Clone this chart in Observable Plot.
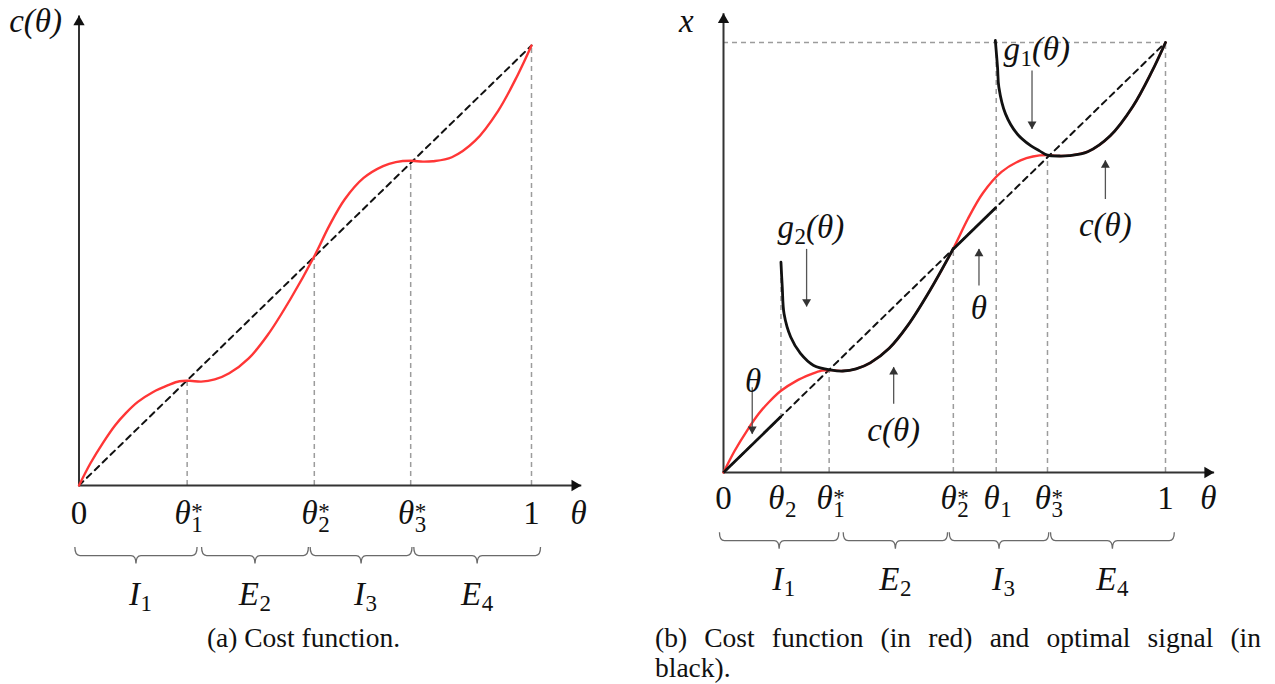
<!DOCTYPE html>
<html><head><meta charset="utf-8">
<script src="https://cdn.jsdelivr.net/npm/d3@7"></script>
<script src="https://cdn.jsdelivr.net/npm/@observablehq/plot@0.6"></script>
<style>
body{margin:0;background:#fff;width:1275px;height:684px;overflow:hidden;position:relative}
#a{position:absolute;left:0;top:0}
#b{position:absolute;left:640px;top:0}
.cap{position:absolute;font-family:"Liberation Serif","Times New Roman",serif;font-size:27.5px;line-height:30px;color:#111;white-space:nowrap}
</style></head><body>
<div id="a"></div><div id="b"></div>
<div class="cap" style="left:0;top:623px;width:607px;text-align:center">(a) Cost function.</div>
<div class="cap" style="left:655px;top:623px;width:606px;text-align:justify;text-align-last:justify;white-space:normal">(b) Cost function (in red) and optimal signal (in</div>
<div class="cap" style="left:655px;top:653px">black).</div>
<script>
// ---- data (θ on x, value on y, both in [0,1]) ----
const cTheta = [0, 0.025, 0.053, 0.080, 0.103, 0.130, 0.163, 0.197, 0.222, 0.245, 0.270, 0.300, 0.332, 0.375, 0.417, 0.468, 0.520, 0.553, 0.587, 0.629, 0.672, 0.700, 0.733, 0.760, 0.782, 0.824, 0.875, 0.926, 0.969, 1];
const cValue = [0, 0.050, 0.097, 0.137, 0.164, 0.190, 0.212, 0.228, 0.237, 0.238, 0.236, 0.241, 0.255, 0.289, 0.342, 0.425, 0.521, 0.590, 0.650, 0.699, 0.726, 0.735, 0.738, 0.736, 0.737, 0.746, 0.783, 0.851, 0.932, 1];
const thetaStar = [0.239, 0.520, 0.733];
const theta2 = 0.130;
const theta1 = 0.617;
const g2Theta = [0.130, 0.133, 0.137, 0.152, 0.174, 0.204];
const g2Value = [0.489, 0.430, 0.369, 0.315, 0.277, 0.249];
const g1Theta = [0.615, 0.620, 0.623, 0.638, 0.664, 0.695, 0.715];
const g1Value = [1.005, 0.942, 0.896, 0.834, 0.788, 0.760, 0.748];

const ticksA = [0, thetaStar[0], thetaStar[1], thetaStar[2], 1];
const tickLabelsA = ["0", "θ_1^*", "θ_2^*", "θ_3^*", "1"];
const ticksB = [0, theta2, thetaStar[0], thetaStar[1], theta1, thetaStar[2], 1];
const tickLabelsB = ["0", "θ_2", "θ_1^*", "θ_2^*", "θ_1", "θ_3^*", "1"];

const regionLabels = ["I_1", "E_2", "I_3", "E_4"];
const regionStart = [-0.008, 0.272, 0.512, 0.741];
const regionEnd = [0.262, 0.508, 0.737, 1.021];

const dropThetaA = [thetaStar[0], thetaStar[1], thetaStar[2], 1];
const dropTopA = [0.239, 0.521, 0.738, 1];
const dropThetaB = [theta2, thetaStar[0], thetaStar[1], theta1, thetaStar[2], 1];
const dropTopB = [0.489, 0.239, 0.521, 1.0, 0.738, 1];

const annLabels = ["θ", "g_2(θ)", "c(θ)", "θ", "g_1(θ)", "c(θ)"];
const annLabelX = [0.067, 0.198, 0.385, 0.578, 0.709, 0.864];
const annLabelY = [0.212, 0.571, 0.098, 0.381, 0.985, 0.574];
const annArrowX = [0.065, 0.188, 0.385, 0.578, 0.698, 0.864];
const annArrowFrom = [0.198, 0.520, 0.160, 0.435, 0.935, 0.636];
const annArrowTo = [0.090, 0.386, 0.245, 0.520, 0.799, 0.726];

// ---- helpers ----
const serif = "'Liberation Serif','Times New Roman',serif";
const cData = cTheta.map((t, i) => ({t, v: cValue[i]}));
const diag = [0, 1];

function parse(label) {
  const m = label.match(/^([^_^]+)(?:_([^_^(]))?(?:\^([^_^(]))?(.*)$/);
  return {base: m[1], sub: m[2] || "", sup: m[3] || "", rest: m[4] || ""};
}
function mathText(items, {size = 33, subSize = 23, subDy = 11, supDy = -1.5} = {}) {
  const P = items.map(d => ({...d, ...parse(d.label)}));
  const isNum = d => /^[0-9]+$/.test(d.base);
  const plain = P.filter(d => !d.sub && !d.sup && !d.rest);
  const scripted = P.filter(d => (d.sub || d.sup) && !d.rest);
  const comp = P.filter(d => d.rest);
  const c = {x: "x", y: "y", fontFamily: serif, fill: "#111", lineAnchor: "middle"};
  return [
    Plot.text(plain.filter(d => !isNum(d)), {...c, text: "base", fontSize: size, fontStyle: "italic"}),
    Plot.text(plain.filter(isNum), {...c, text: "base", fontSize: size}),
    Plot.text(scripted, {...c, text: "base", fontSize: size, fontStyle: "italic", textAnchor: "end", dx: 3.5}),
    Plot.text(scripted.filter(d => d.sub), {...c, text: "sub", fontSize: subSize, textAnchor: "start", dx: 4, dy: subDy}),
    Plot.text(scripted.filter(d => d.sup), {...c, text: "sup", fontSize: subSize, textAnchor: "start", dx: 4, dy: supDy}),
    Plot.text(comp, {...c, text: "base", fontSize: size, fontStyle: "italic", textAnchor: "end", dx: -17}),
    Plot.text(comp, {...c, text: "sub", fontSize: subSize, textAnchor: "start", dx: -16.5, dy: subDy}),
    Plot.text(comp, {...c, text: "rest", fontSize: size, fontStyle: "italic", textAnchor: "start", dx: -5})
  ];
}
function braces(starts, ends, yTop) {
  return (index, scales) => {
    const g = d3.create("svg:g").attr("fill", "none").attr("stroke", "#6a6a6a").attr("stroke-width", 1.3);
    starts.forEach((s, i) => {
      const x0 = scales.x(s), x1 = scales.x(ends[i]), xm = (x0 + x1) / 2, y0 = scales.y(yTop);
      const h = 8.5, t = 8, r = 5, yh = y0 + h;
      g.append("path").attr("d",
        `M${x0},${y0}Q${x0},${yh} ${x0 + r},${yh}L${xm - r},${yh}Q${xm},${yh} ${xm},${yh + t}Q${xm},${yh} ${xm + r},${yh}L${x1 - r},${yh}Q${x1},${yh} ${x1},${y0}`);
    });
    return g.node();
  };
}
function axes(xTip, yTip) {
  return [
    Plot.link([0], {x1: 0, y1: 0, x2: 0, y2: yTip, stroke: "#333", strokeWidth: 2}),
    Plot.link([0], {x1: 0, y1: 0, x2: xTip, y2: 0, stroke: "#333", strokeWidth: 2}),
    Plot.dot([0], {x: 0, y: yTip, symbol: "triangle", r: 4.2, fill: "#111", stroke: null, dy: 6.5}),
    Plot.dot([0], {x: xTip, y: 0, symbol: "triangle", r: 4.2, fill: "#111", stroke: null, rotate: 90, dx: -6.5})
  ];
}
const dashGrey = {stroke: "#9c9c9c", strokeDasharray: "5,4", strokeWidth: 1.5};
const dashDiag = {stroke: "#111", strokeWidth: 2, strokeDasharray: "6,5"};
const regionItems = regionLabels.map((label, i) => ({label, x: (regionStart[i] + regionEnd[i]) / 2, y: -0.248}));

// ---- panel (a) ----
const plotA = Plot.plot({
  width: 640, height: 615,
  marginLeft: 78.5, marginRight: 109, marginTop: 45, marginBottom: 130,
  x: {domain: [0, 1], axis: null}, y: {domain: [0, 1], axis: null},
  marks: [
    Plot.ruleX(dropThetaA.map((t, i) => ({t, top: dropTopA[i]})), {x: "t", y1: 0, y2: "top", ...dashGrey}),
    Plot.line(diag, {x: d => d, y: d => d, ...dashDiag}),
    ...axes(1.11, 1.068),
    Plot.line(cData, {x: "t", y: "v", stroke: "#ff3636", strokeWidth: 2.4, curve: "catmull-rom"}),
    ...mathText([{label: "c(θ)", x: -0.096, y: 1.055}, {label: "θ", x: 1.104, y: -0.063}]),
    ...mathText(ticksA.map((x, i) => ({x, y: -0.063, label: tickLabelsA[i]}))),
    braces(regionStart, regionEnd, -0.141),
    ...mathText(regionItems, {subDy: 9})
  ]
});
document.getElementById("a").append(plotA);

// ---- panel (b) ----
const signalLow = g2Theta.map((t, i) => ({t, v: g2Value[i]})).concat(cData.filter(d => d.t >= thetaStar[0] && d.t <= thetaStar[1]));
const signalHigh = g1Theta.map((t, i) => ({t, v: g1Value[i]})).concat(cData.filter(d => d.t >= thetaStar[2]));
const signalLinear = [[0, theta2], [thetaStar[1], theta1]];
const arrows = annArrowX.map((x, i) => ({x, from: annArrowFrom[i], to: annArrowTo[i]}));
const arrowHead = {x: "x", y: "to", symbol: "triangle", r: 3.3, fill: "#333", stroke: null};

const plotB = Plot.plot({
  width: 635, height: 615,
  marginLeft: 83, marginRight: 110, marginTop: 42, marginBottom: 143,
  x: {domain: [0, 1], axis: null}, y: {domain: [0, 1], axis: null},
  marks: [
    Plot.ruleX(dropThetaB.map((t, i) => ({t, top: dropTopB[i]})), {x: "t", y1: 0, y2: "top", ...dashGrey}),
    Plot.ruleY([1], {x1: 0, x2: 1, ...dashGrey}),
    Plot.line(diag, {x: d => d, y: d => d, ...dashDiag}),
    ...axes(1.11, 1.068),
    Plot.line(cData, {x: "t", y: "v", stroke: "#ff3636", strokeWidth: 2.4, curve: "catmull-rom"}),
    Plot.link(signalLinear, {x1: d => d[0], y1: d => d[0], x2: d => d[1], y2: d => d[1], stroke: "#111", strokeWidth: 2.8}),
    Plot.line(signalLow, {x: "t", y: "v", stroke: "#111", strokeWidth: 2.8, curve: "catmull-rom"}),
    Plot.line(signalHigh, {x: "t", y: "v", stroke: "#111", strokeWidth: 2.8, curve: "catmull-rom"}),
    Plot.link(arrows, {x1: "x", x2: "x", y1: "from", y2: "to", stroke: "#555", strokeWidth: 1.3}),
    Plot.dot(arrows.filter(d => d.to > d.from), {...arrowHead, dy: 4.8}),
    Plot.dot(arrows.filter(d => d.to < d.from), {...arrowHead, rotate: 180, dy: -4.8}),
    ...mathText(annLabels.map((label, i) => ({label, x: annLabelX[i], y: annLabelY[i]})), {subDy: 10}),
    ...mathText([{label: "x", x: -0.084, y: 1.049}, {label: "θ", x: 1.097, y: -0.061}]),
    ...mathText(ticksB.map((x, i) => ({x, y: -0.061, label: tickLabelsB[i]}))),
    braces(regionStart, regionEnd, -0.14),
    ...mathText(regionItems, {subDy: 9})
  ]
});
document.getElementById("b").append(plotB);
</script>
</body></html>
